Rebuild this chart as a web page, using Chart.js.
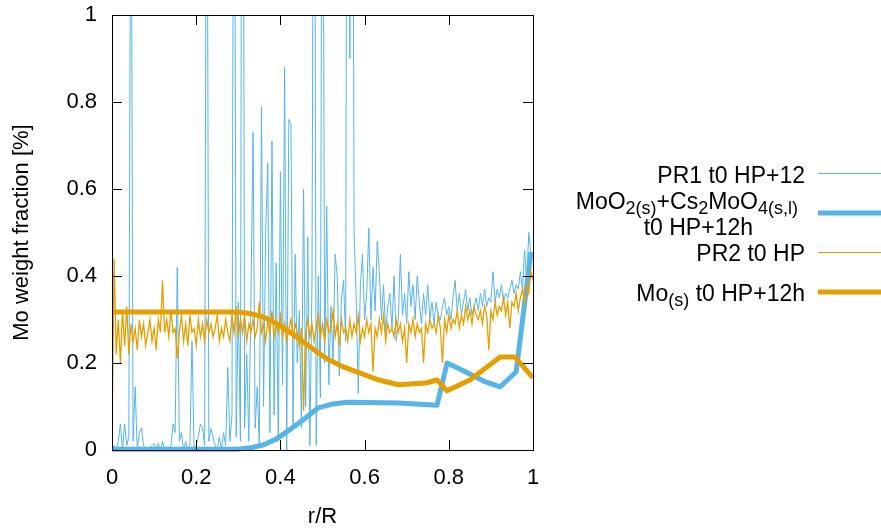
<!DOCTYPE html>
<html>
<head>
<meta charset="utf-8">
<script src="https://cdn.jsdelivr.net/npm/chart.js@4"></script>
<style>
  html, body { margin: 0; padding: 0; background: #fff; }
</style>
</head>
<body>
<canvas id="chart" width="881" height="532"></canvas>
<script>
// axis ticks
const xTicks = [0, 0.2, 0.4, 0.6, 0.8, 1];
const yTicks = [0, 0.2, 0.4, 0.6, 0.8, 1];

// PR profiles are sampled every 0.005 in r/R
const prStep = 0.005;

const pr1Values = [
  0.0, 0.01, 0.0, 0.02, 0.06, 0.0, 0.06, 0.01, 0.03, 1.6,
  0.02, 0.145, 0.0, 0.04, 0.05, 0.01, 0.0, 0.0, 0.0, 0.01,
  0.015, 0.0, 0.015, 0.0, 0.02, 0.0, 0.0, 0.0, 0.01, 0.06,
  0.04, 0.42, 0.02, 0.04, 0.0, 0.02, 0.0, 0.01, 0.25, 0.0,
  0.01, 0.03, 0.06, 0.05, 0.01, 1.8, 0.02, 0.05, 0.03, 0.01,
  0.0, 0.03, 0.0, 0.04, 0.01, 0.19, 0.02, 0.08, 2.0, 0.03,
  0.34, 0.02, 2.5, 0.05, 0.22, 0.02, 0.35, 0.73, 0.05, 0.145,
  0.01, 0.79, 0.1, 0.5, 0.66, 0.04, 0.71, 0.08, 0.43, 0.02,
  0.64, 0.15, 0.88, 0.0, 0.76, 0.75, 0.05, 0.45, 0.2, 0.32,
  0.05, 0.6, 0.1, 0.49, 0.01, 0.38, 2.0, 0.01, 0.4, 0.12,
  2.0, 0.2, 0.56, 0.15, 0.33, 0.2, 0.45, 0.4, 0.17, 0.35,
  0.39, 0.25, 2.5, 0.9, 2.5, 0.5, 0.35, 0.13, 0.38, 0.45,
  0.3, 0.36, 0.51, 0.3, 0.42, 0.32, 0.48, 0.41, 0.3, 0.38,
  0.27, 0.33, 0.36, 0.28, 0.4, 0.25, 0.3, 0.45, 0.31, 0.36,
  0.29, 0.41, 0.33, 0.38, 0.3, 0.4, 0.34, 0.29, 0.36, 0.31,
  0.38, 0.3, 0.34, 0.29, 0.34, 0.31, 0.3, 0.33, 0.35, 0.31,
  0.33, 0.3, 0.35, 0.39, 0.32, 0.36, 0.31, 0.34, 0.37, 0.32,
  0.35, 0.31, 0.33, 0.35, 0.32, 0.36, 0.33, 0.37, 0.33, 0.35,
  0.34, 0.41, 0.34, 0.37, 0.35, 0.38, 0.34, 0.36, 0.35, 0.37,
  0.39, 0.36, 0.38, 0.37, 0.41, 0.37, 0.46, 0.39, 0.5, 0.45,
  0.44
];

const pr2Values = [
  0.02, 0.44, 0.22, 0.3, 0.2, 0.32, 0.24, 0.33, 0.22, 0.29,
  0.25, 0.28, 0.23, 0.3, 0.26, 0.29, 0.24, 0.27, 0.3, 0.25,
  0.28, 0.23, 0.3, 0.27, 0.39, 0.27, 0.3, 0.26, 0.32, 0.27,
  0.28, 0.21, 0.27, 0.31, 0.25, 0.29, 0.24, 0.31, 0.27, 0.28,
  0.24, 0.3, 0.26, 0.29, 0.25, 0.3, 0.27, 0.29, 0.26, 0.28,
  0.31, 0.25, 0.28, 0.26, 0.3, 0.27, 0.25, 0.31, 0.27, 0.33,
  0.26, 0.3, 0.27, 0.31, 0.25, 0.29, 0.27, 0.3, 0.26, 0.28,
  0.34, 0.27, 0.29, 0.25, 0.3, 0.27, 0.32, 0.26, 0.29, 0.27,
  0.31, 0.26, 0.29, 0.25, 0.28, 0.3, 0.26, 0.29, 0.27, 0.24,
  0.28, 0.09, 0.27, 0.3, 0.26, 0.29, 0.25, 0.28, 0.31, 0.26,
  0.29, 0.25, 0.3, 0.27, 0.28, 0.32, 0.26, 0.29, 0.24, 0.3,
  0.27, 0.28, 0.25, 0.3, 0.26, 0.29, 0.27, 0.31, 0.25, 0.28,
  0.26, 0.3, 0.27, 0.29, 0.18, 0.28, 0.26, 0.3, 0.27, 0.31,
  0.25, 0.29, 0.27, 0.28, 0.26, 0.3, 0.27, 0.29, 0.25, 0.28,
  0.2, 0.29, 0.27, 0.3, 0.26, 0.29, 0.27, 0.28, 0.2, 0.29,
  0.27, 0.3, 0.28, 0.29, 0.27, 0.31, 0.28, 0.2, 0.3, 0.27,
  0.31, 0.28, 0.3, 0.29, 0.32, 0.28, 0.31, 0.29, 0.33, 0.3,
  0.32, 0.29, 0.33, 0.31, 0.3, 0.32, 0.29, 0.33, 0.31, 0.23,
  0.32, 0.3, 0.34, 0.31, 0.33, 0.32, 0.35, 0.31, 0.34, 0.28,
  0.34, 0.33, 0.36, 0.32, 0.35, 0.37, 0.34, 0.38, 0.36, 0.41,
  0.39
];

// calculated profiles
const moo2R = [0, 0.30, 0.33, 0.36, 0.39, 0.42, 0.455, 0.49, 0.52, 0.56, 0.68, 0.772, 0.796, 0.831, 0.886, 0.922, 0.96, 0.995];
const moo2Values = [0.002, 0.002, 0.005, 0.012, 0.025, 0.045, 0.07, 0.097, 0.105, 0.11, 0.108, 0.103, 0.2, 0.184, 0.157, 0.145, 0.18, 0.455];

const moR = [0, 0.30, 0.32, 0.35, 0.38, 0.41, 0.44, 0.475, 0.51, 0.545, 0.58, 0.63, 0.68, 0.745, 0.772, 0.796, 0.85, 0.922, 0.957, 1.0];
const moValues = [0.317, 0.317, 0.315, 0.309, 0.297, 0.279, 0.259, 0.234, 0.21, 0.193, 0.18, 0.162, 0.15, 0.154, 0.161, 0.136, 0.161, 0.214, 0.214, 0.166];

const BLUE = '#56b4e9';
const ORANGE = '#e69f00';
const FONT = "'Liberation Sans', Arial, sans-serif";
const KEY_SIZE = 23;
const SUB_SIZE = 18;

// legend: y of sample line, text lines as [text, isSubscript] segments with right edge
const legendEntries = [
  { color: BLUE, width: 1, lineY: 173, lines: [{ right: 805, y: 183, parts: [['PR1 t0 HP+12', false]] }] },
  { color: BLUE, width: 5, lineY: 213, lines: [
    { right: 798, y: 209, parts: [['MoO', false], ['2(s)', true], ['+Cs', false], ['2', true], ['MoO', false], ['4(s,l)', true]] },
    { right: 753, y: 235, parts: [['t0 HP+12h', false]] }
  ] },
  { color: ORANGE, width: 1, lineY: 252, lines: [{ right: 805, y: 261, parts: [['PR2 t0 HP', false]] }] },
  { color: ORANGE, width: 5, lineY: 292, lines: [{ right: 805, y: 301, parts: [['Mo', false], ['(s)', true], [' t0 HP+12h', false]] }] }
];

const toPoints = (xs, ys) => ys.map((v, i) => ({ x: xs[i], y: v }));
const toStepPoints = (ys) => ys.map((v, i) => ({ x: i * prStep, y: v }));
const tickText = (v) => String(Math.round(v * 10) / 10);

const frameTicks = {
  id: 'frameTicks',
  afterDatasetsDraw(chart) {
    const { ctx, chartArea: a, scales: { x, y } } = chart;
    ctx.save();
    ctx.strokeStyle = '#000';
    ctx.lineWidth = 1;
    ctx.beginPath();
    xTicks.forEach(v => {
      const px = Math.round(x.getPixelForValue(v)) + 0.5;
      ctx.moveTo(px, a.bottom); ctx.lineTo(px, a.bottom - 10);
      ctx.moveTo(px, a.top); ctx.lineTo(px, a.top + 10);
    });
    yTicks.forEach(v => {
      const py = Math.round(y.getPixelForValue(v)) + 0.5;
      ctx.moveTo(a.left, py); ctx.lineTo(a.left + 10, py);
      ctx.moveTo(a.right, py); ctx.lineTo(a.right - 10, py);
    });
    ctx.stroke();
    ctx.strokeRect(Math.round(a.left) + 0.5, Math.round(a.top) + 0.5,
      Math.round(a.right - a.left), Math.round(a.bottom - a.top));
    ctx.restore();
  }
};

const keyBox = {
  id: 'keyBox',
  afterDraw(chart) {
    const ctx = chart.ctx;
    ctx.save();
    ctx.fillStyle = '#000';
    ctx.textBaseline = 'alphabetic';
    ctx.textAlign = 'left';
    legendEntries.forEach(entry => {
      entry.lines.forEach(line => {
        // measure first, then draw from the left
        let total = 0;
        line.parts.forEach(([t, sub]) => {
          ctx.font = (sub ? SUB_SIZE : KEY_SIZE) + 'px ' + FONT;
          total += ctx.measureText(t).width;
        });
        let xPos = line.right - total;
        line.parts.forEach(([t, sub]) => {
          ctx.font = (sub ? SUB_SIZE : KEY_SIZE) + 'px ' + FONT;
          ctx.fillText(t, xPos, line.y + (sub ? 5 : 0));
          xPos += ctx.measureText(t).width;
        });
      });
      ctx.strokeStyle = entry.color;
      ctx.lineWidth = entry.width;
      ctx.beginPath();
      ctx.moveTo(818, entry.lineY + (entry.width === 1 ? 0.5 : 0));
      ctx.lineTo(881, entry.lineY + (entry.width === 1 ? 0.5 : 0));
      ctx.stroke();
    });
    ctx.restore();
  }
};

const thickClip = { left: 3, top: 0, right: 3, bottom: 3 };

new Chart(document.getElementById('chart'), {
  type: 'line',
  data: {
    datasets: [
      {
        label: 'Mo(s) t0 HP+12h',
        data: toPoints(moR, moValues),
        borderColor: ORANGE,
        borderWidth: 5,
        borderJoinStyle: 'round',
        clip: thickClip
      },
      {
        label: 'PR2 t0 HP',
        data: toStepPoints(pr2Values),
        borderColor: ORANGE,
        borderWidth: 1.3
      },
      {
        label: 'MoO2(s)+Cs2MoO4(s,l) t0 HP+12h',
        data: toPoints(moo2R, moo2Values),
        borderColor: BLUE,
        borderWidth: 5,
        borderJoinStyle: 'round',
        clip: thickClip
      },
      {
        label: 'PR1 t0 HP+12',
        data: toStepPoints(pr1Values),
        borderColor: BLUE,
        borderWidth: 1
      }
    ]
  },
  options: {
    responsive: false,
    animation: false,
    elements: {
      point: { radius: 0, hoverRadius: 0 },
      line: { tension: 0, fill: false }
    },
    layout: { padding: { top: 15, right: 348, left: 0, bottom: 0 } },
    plugins: {
      legend: { display: false },
      tooltip: { enabled: false }
    },
    scales: {
      x: {
        type: 'linear',
        min: 0,
        max: 1,
        afterBuildTicks: (scale) => { scale.ticks = xTicks.map(v => ({ value: v })); },
        afterFit: (scale) => { scale.height = 82; scale.paddingLeft = 0; scale.paddingRight = 0; },
        grid: { display: false, drawTicks: false },
        border: { display: false },
        ticks: {
          padding: 15,
          color: '#000',
          font: { family: FONT, size: 22 },
          maxRotation: 0,
          callback: tickText
        },
        title: {
          display: true,
          text: 'r/R',
          color: '#000',
          font: { family: FONT, size: 22 },
          padding: { top: 0, bottom: 2 }
        }
      },
      y: {
        type: 'linear',
        min: 0,
        max: 1,
        afterBuildTicks: (scale) => { scale.ticks = yTicks.map(v => ({ value: v })); },
        afterFit: (scale) => { scale.width = 112; scale.paddingTop = 0; scale.paddingBottom = 0; },
        grid: { display: false, drawTicks: false },
        border: { display: false },
        ticks: {
          padding: 15,
          color: '#000',
          font: { family: FONT, size: 22 },
          callback: tickText
        },
        title: {
          display: true,
          text: 'Mo weight fraction [%]',
          color: '#000',
          font: { family: FONT, size: 22 },
          padding: { top: 9, bottom: 0 }
        }
      }
    }
  },
  plugins: [frameTicks, keyBox]
});
</script>
</body>
</html>
